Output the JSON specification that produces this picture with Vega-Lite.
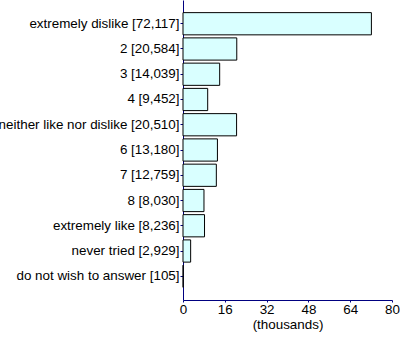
{
  "$schema": "https://vega.github.io/schema/vega-lite/v6.json",
  "autosize": "none",
  "width": 209,
  "height": 300,
  "padding": {"left": 183, "top": 0, "right": 8, "bottom": 42},
  "background": "white",
  "config": {"view": {"stroke": null}, "font": "Liberation Sans"},
  "data": {"values": [
    {"label": "extremely dislike [72,117]", "value": 72.117},
    {"label": "2 [20,584]", "value": 20.584},
    {"label": "3 [14,039]", "value": 14.039},
    {"label": "4 [9,452]", "value": 9.452},
    {"label": "neither like nor dislike [20,510]", "value": 20.510},
    {"label": "6 [13,180]", "value": 13.180},
    {"label": "7 [12,759]", "value": 12.759},
    {"label": "8 [8,030]", "value": 8.030},
    {"label": "extremely like [8,236]", "value": 8.236},
    {"label": "never tried [2,929]", "value": 2.929},
    {"label": "do not wish to answer [105]", "value": 0.105}
  ]},
  "mark": {"type": "bar", "fill": "#d9ffff", "stroke": "black", "strokeWidth": 1},
  "encoding": {
    "y": {"field": "label", "type": "nominal", "sort": null,
      "scale": {"paddingInner": 0.12, "paddingOuter": 0.5},
      "axis": {"title": null, "domainColor": "#000080", "tickColor": "#000080", "tickSize": 3,
        "labelFontSize": 13.4, "labelColor": "black", "labelPadding": 1, "labelLimit": 300, "grid": false}},
    "x": {"field": "value", "type": "quantitative",
      "scale": {"domain": [0, 80], "nice": false},
      "axis": {"title": "(thousands)", "values": [0, 16, 32, 48, 64, 80], "domainColor": "#000080", "tickColor": "#000080",
        "tickSize": 2, "labelPadding": 0, "labelFontSize": 13.4, "labelColor": "black", "titleFontSize": 13.4, "titleFontWeight": "normal",
        "titleColor": "black", "titlePadding": 2, "grid": false, "labelFlush": false}}
  }
}
